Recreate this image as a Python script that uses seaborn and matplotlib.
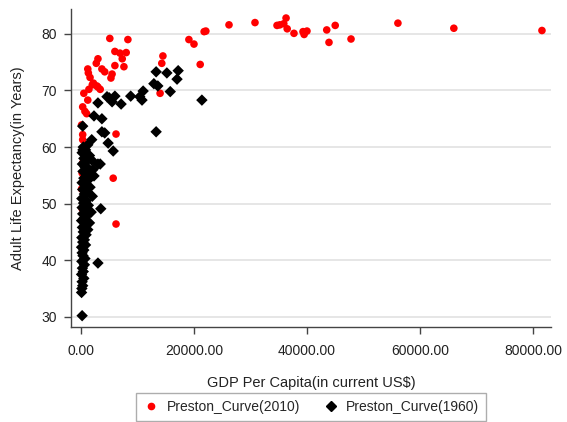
import matplotlib
matplotlib.use("Agg")
import matplotlib.pyplot as plt
import seaborn as sns
import pandas as pd
from matplotlib.lines import Line2D
from matplotlib.ticker import FuncFormatter

# ---- data ----
gdp_2010 = [81600, 66000, 56100, 47800, 45000, 43900, 43500, 40000, 39500, 39300,
            37700, 36500, 36300, 35900, 35200, 34700, 30800, 26200, 22100, 21800,
            21100, 19100, 20000, 14500, 14300, 14000, 5100, 8300, 6000, 6900,
            8000, 7300, 7600, 6000, 3000, 2700, 3700, 4200, 5500, 5300,
            1200, 1300, 1600, 2200, 2800, 3400, 1400, 500, 1200, 300,
            700, 1000, 6200, 300, 100, 300, 5700, 300, 200, 6200,
            300, 100, 700, 200, 3000, 2000]
life_2010 = [80.6, 81.0, 81.9, 79.1, 81.5, 78.5, 80.7, 80.5, 79.9, 80.4,
             80.1, 80.9, 82.8, 81.8, 81.6, 81.5, 82.0, 81.6, 80.5, 80.4,
             74.6, 79.0, 78.2, 76.1, 74.8, 69.5, 79.2, 79.0, 76.9, 76.6,
             76.7, 75.6, 74.2, 74.4, 75.6, 74.8, 73.8, 73.3, 72.9, 72.2,
             73.8, 73.1, 72.3, 71.3, 70.8, 70.2, 70.2, 69.5, 68.3, 67.1,
             66.3, 65.9, 62.3, 62.2, 63.9, 61.3, 54.5, 57.2, 55.4, 46.4,
             53.7, 52.6, 49.8, 49.1, 70.6, 71.0]

gdp_1960 = [13300, 15200, 17200, 17000, 12900, 13600, 15800, 21400, 13300, 11000,
            10400, 10800, 8800, 6000, 5000, 5500, 4600, 7100, 3000, 2300,
            3700, 300, 3700, 4200, 4800, 5700, 1900, 1200, 350, 1000,
            1900, 3000, 3400, 2100, 1600, 3500, 3000, 200, 100,
            150, 300, 200, 500, 100, 400, 250, 600, 150, 700,
            350, 200, 500, 100, 800, 300, 600, 150, 900, 400,
            1200, 250, 700, 1500, 100, 500, 1000, 300, 1800, 700,
            200, 1300, 450, 900, 150, 2000, 600, 1100, 300, 1600,
            800, 200, 1200, 500, 2300, 900, 350, 1400, 700, 250,
            1000, 500, 1500, 200, 800, 400]
life_1960 = [73.3, 73.1, 73.5, 72.0, 71.2, 70.8, 69.8, 68.3, 62.7, 69.9,
             68.9, 68.3, 69.0, 69.0, 68.7, 68.0, 68.9, 67.6, 67.8, 65.5,
             65.0, 63.7, 62.7, 62.5, 60.7, 59.3, 61.3, 60.4, 59.5, 58.6,
             57.7, 57.0, 57.0, 56.0, 54.7, 49.1, 39.5, 30.2, 34.3,
             35.0, 35.5, 36.2, 36.8, 37.5, 38.0, 38.6, 39.2, 39.8, 40.3,
             40.8, 41.3, 41.8, 42.3, 42.7, 43.2, 43.6, 44.0, 44.5, 45.0,
             45.4, 45.8, 46.2, 46.6, 47.0, 47.4, 47.8, 48.2, 48.5, 48.9,
             49.3, 49.7, 50.1, 50.5, 50.9, 51.3, 51.7, 52.1, 52.5, 52.9,
             53.3, 53.7, 54.1, 54.5, 54.9, 55.3, 55.7, 56.1, 56.5, 57.0,
             57.5, 58.0, 58.5, 59.0, 59.5, 60.0]

series_names = ["Preston_Curve(2010)", "Preston_Curve(1960)"]
x_ticks = [0, 20000, 40000, 60000, 80000]
y_ticks = [30, 40, 50, 60, 70, 80]

df10 = pd.DataFrame({"gdp": gdp_2010, "life": life_2010})
df60 = pd.DataFrame({"gdp": gdp_1960, "life": life_1960})

sns.set_theme(style="white")
plt.rcParams["font.family"] = ["Liberation Sans", "DejaVu Sans"]

fig = plt.figure(figsize=(5.67, 4.22), dpi=100)
ax = fig.add_axes([71 / 567, 1 - 327 / 422, (551 - 71) / 567, (327 - 9) / 422])

ax.yaxis.grid(True, color="#e6e6e6", linewidth=1.4, zorder=0)
ax.set_axisbelow(True)

sns.scatterplot(data=df10, x="gdp", y="life", ax=ax, color="#ff0000", marker="o",
                s=30, edgecolor="none", linewidth=0, zorder=3)
sns.scatterplot(data=df60, x="gdp", y="life", ax=ax, color="black", marker="D",
                s=34, edgecolor="none", linewidth=0, zorder=4)

ax.set_xlim(-1770, 83200)
ax.set_ylim(28.2, 84.4)
ax.set_xticks(x_ticks)
ax.set_yticks(y_ticks)
ax.xaxis.set_major_formatter(FuncFormatter(lambda v, p: f"{v:.2f}"))
ax.tick_params(axis="both", which="major", direction="out", length=5, width=1,
               color="#444444", labelsize=10, labelcolor="#222222",
               bottom=True, left=True)
ax.tick_params(axis="x", pad=7)
ax.tick_params(axis="y", pad=5)
for side in ["top", "right"]:
    ax.spines[side].set_visible(False)
for side in ["left", "bottom"]:
    ax.spines[side].set_color("#444444")
    ax.spines[side].set_linewidth(1.0)

ax.set_xlabel("GDP Per Capita(in current US$)", fontsize=10.5, color="#222222", labelpad=13)
ax.set_ylabel("Adult Life Expectancy(in Years)", fontsize=10.5, color="#222222", labelpad=12)

handles = [
    Line2D([], [], linestyle="none", marker="o", color="#ff0000", markersize=4.5),
    Line2D([], [], linestyle="none", marker="D", color="black", markersize=5.5),
]
leg = fig.legend(handles, series_names, loc="center", bbox_to_anchor=(311 / 567, 1 - 407 / 422),
                 ncol=2, frameon=True, fancybox=False, fontsize=10, handlelength=1.2,
                 handletextpad=0.5, columnspacing=1.6, borderpad=0.5)
leg.get_frame().set_edgecolor("#999999")
leg.get_frame().set_linewidth(1.0)

fig.savefig("out.png", dpi=100, facecolor="white")
